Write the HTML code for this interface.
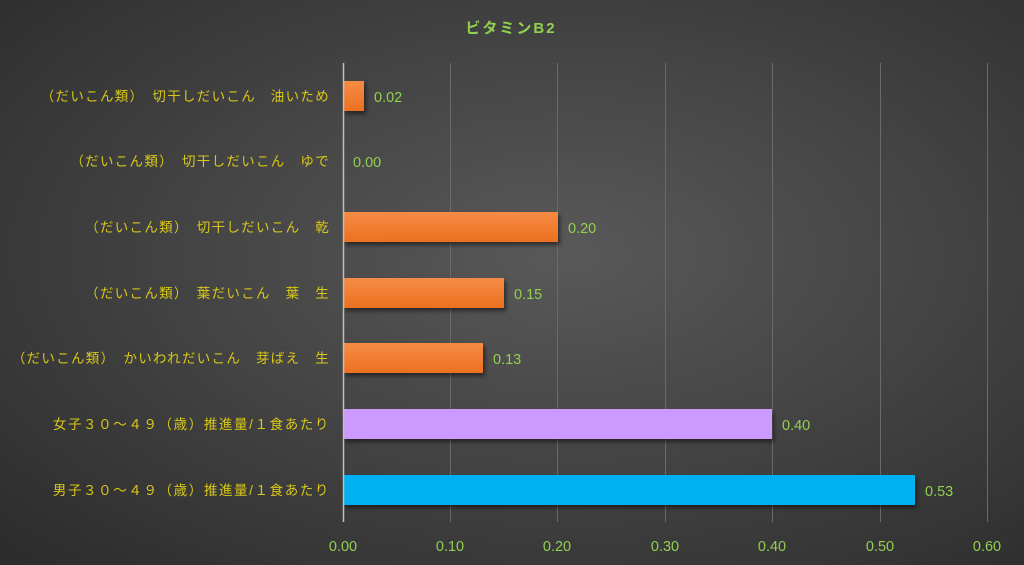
<!DOCTYPE html>
<html><head><meta charset="utf-8"><style>
body{margin:0;width:1024px;height:565px;overflow:hidden;background:radial-gradient(ellipse at 55% 45%,#595959 0%,#474747 40%,#2b2b2b 100%);}
svg{display:block}
text{font-family:"Liberation Sans","Noto Sans CJK JP",sans-serif;}
</style></head><body>
<svg width="1024" height="565" xmlns="http://www.w3.org/2000/svg">
<defs>
<linearGradient id="og" x1="0" y1="0" x2="0" y2="1"><stop offset="0" stop-color="#f58c45"/><stop offset="1" stop-color="#ec7020"/></linearGradient>
<filter id="sh" x="-5%" y="-20%" width="115%" height="160%"><feDropShadow dx="2" dy="3" stdDeviation="2" flood-color="#000" flood-opacity="0.5"/></filter>
</defs>
<text x="511" y="33" fill="#92d050" font-size="15" font-weight="bold" text-anchor="middle" letter-spacing="2">ビタミンB2</text>
<g stroke="#6a6a6a" stroke-width="1">
<line x1="450.5" y1="63" x2="450.5" y2="522"/><line x1="557.5" y1="63" x2="557.5" y2="522"/><line x1="665.5" y1="63" x2="665.5" y2="522"/><line x1="772.5" y1="63" x2="772.5" y2="522"/><line x1="880.5" y1="63" x2="880.5" y2="522"/><line x1="987.5" y1="63" x2="987.5" y2="522"/>
</g>
<g filter="url(#sh)">
<rect x="343" y="81" width="21" height="30" fill="url(#og)"/>
<rect x="343" y="212" width="215" height="30" fill="url(#og)"/>
<rect x="343" y="278" width="161" height="30" fill="url(#og)"/>
<rect x="343" y="343" width="140" height="30" fill="url(#og)"/>
<rect x="343" y="409" width="429" height="30" fill="#cc99ff"/>
<rect x="343" y="475" width="572" height="30" fill="#00b0f0"/>
</g>
<line x1="343.5" y1="63" x2="343.5" y2="522" stroke="#bfbfbf" stroke-width="1.5"/>
<g fill="#92d050" font-size="14.5">
<text x="374" y="102">0.02</text><text x="353" y="167">0.00</text><text x="568" y="233">0.20</text><text x="514" y="299">0.15</text><text x="493" y="364">0.13</text><text x="782" y="430">0.40</text><text x="925" y="496">0.53</text>
</g>
<g fill="#92d050" font-size="14.5" text-anchor="middle">
<text x="343" y="551">0.00</text><text x="450" y="551">0.10</text><text x="557" y="551">0.20</text><text x="665" y="551">0.30</text><text x="772" y="551">0.40</text><text x="880" y="551">0.50</text><text x="987" y="551">0.60</text>
</g>
<g fill="#d9c818" font-size="13.5" text-anchor="end" letter-spacing="1.3">
<text x="330" y="101">（だいこん類）　切干しだいこん　油いため</text>
<text x="330" y="166">（だいこん類）　切干しだいこん　ゆで</text>
<text x="330" y="232">（だいこん類）　切干しだいこん　乾</text>
<text x="330" y="298">（だいこん類）　葉だいこん　葉　生</text>
<text x="330" y="363">（だいこん類）　かいわれだいこん　芽ばえ　生</text>
<text x="330" y="429" letter-spacing="1.6">女子３０～４９（歳）推進量/１食あたり</text>
<text x="330" y="495" letter-spacing="1.6">男子３０～４９（歳）推進量/１食あたり</text>
</g>
</svg>
</body></html>
